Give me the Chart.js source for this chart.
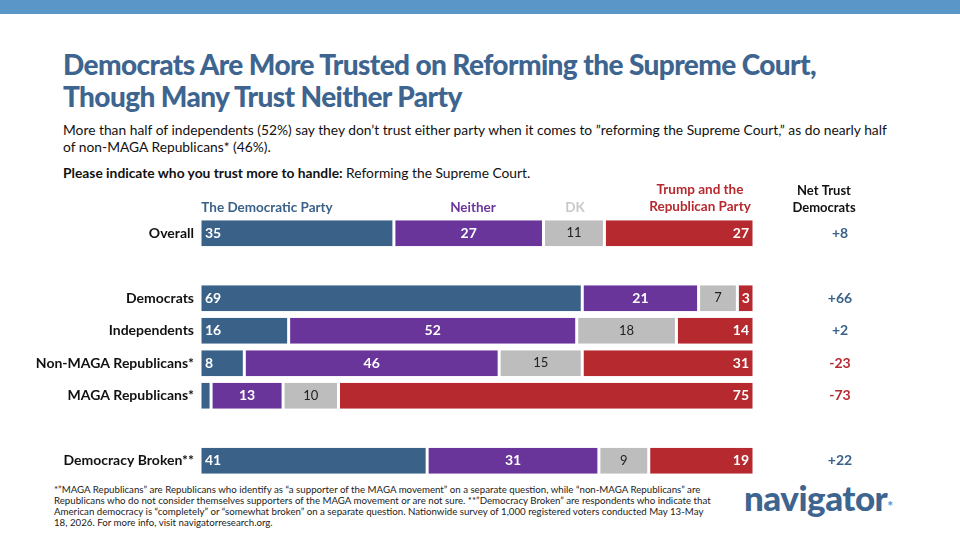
<!DOCTYPE html>
<html>
<head>
<meta charset="utf-8">
<script src="https://cdn.jsdelivr.net/npm/chart.js"></script>
<style>
  body { margin: 0; width: 960px; height: 540px; position: relative; overflow: hidden; background: #fff; font-family: Lato, "Open Sans", sans-serif; }
  #topbar { position: absolute; left: 0; top: 0; width: 960px; height: 14px; background: #5b96c8; }
  #title { position: absolute; left: 63px; top: 48px; width: 880px; font-size: 28px; line-height: 32px; font-weight: 900; color: #3d6590; letter-spacing: -0.6px; }
  #sub { position: absolute; left: 63px; top: 121px; width: 835px; font-size: 13.8px; line-height: 17px; color: #111; }
  #q { position: absolute; left: 63px; top: 164px; font-size: 13.8px; color: #111; }
  #foot { position: absolute; left: 54px; top: 484px; width: 660px; font-size: 9.7px; line-height: 11px; color: #222; }
  #logo { position: absolute; left: 744px; top: 476px; font-size: 35px; font-weight: 900; color: #3d6590; letter-spacing: -0.5px; }
  #logo span { color: #5b96c8; font-size: 14px; }
  canvas { position: absolute; left: 0; top: 0; }
</style>
</head>
<body>
<div id="topbar"></div>
<div id="title">Democrats Are More Trusted on Reforming the Supreme Court,<br>Though Many Trust Neither Party</div>
<div id="sub">More than half of independents (52%) say they don’t trust either party when it comes to ”reforming the Supreme Court,” as do nearly half of non-MAGA Republicans* (46%).</div>
<div id="q"><b>Please indicate who you trust more to handle:</b> Reforming the Supreme Court.</div>
<div id="foot">*”MAGA Republicans” are Republicans who identify as “a supporter of the MAGA movement” on a separate question, while “non-MAGA Republicans” are Republicans who do not consider themselves supporters of the MAGA movement or are not sure. **”Democracy Broken” are respondents who indicate that American democracy is “completely” or “somewhat broken” on a separate question. Nationwide survey of 1,000 registered voters conducted May 13-May 18, 2026. For more info, visit navigatorresearch.org.</div>
<div id="logo">navigator<span>*</span></div>
<canvas id="c" width="960" height="540"></canvas>
<script>
// rows, '' = spacer row
var groups = ['Overall', '', 'Democrats', 'Independents', 'Non-MAGA Republicans*', 'MAGA Republicans*', '', 'Democracy Broken**'];
var democratic = [35, null, 69, 16, 8, 2, null, 41];
var neither = [27, null, 21, 52, 46, 13, null, 31];
var dk = [11, null, 7, 18, 15, 10, null, 9];
var republican = [27, null, 3, 14, 31, 75, null, 19];
var netTrust = ['+8', '', '+66', '+2', '-23', '-73', '', '+22'];
var seriesNames = ['The Democratic Party', 'Neither', 'DK', 'Trump and the\nRepublican Party'];
var colors = ['#3a6188', '#6a359b', '#bdbdbd', '#b6292e'];

var labelPlugin = {
  id: 'labels',
  afterDatasetsDraw: function (chart) {
    var ctx = chart.ctx;
    var y = chart.scales.y;
    ctx.save();
    // row labels
    ctx.textAlign = 'right';
    ctx.textBaseline = 'middle';
    ctx.fillStyle = '#111';
    ctx.font = 'bold 14px Lato';
    groups.forEach(function (g, i) {
      if (g) ctx.fillText(g, 194, y.getPixelForValue(i));
    });
    // net trust
    ctx.textAlign = 'center';
    ctx.font = 'bold 14px Lato';
    netTrust.forEach(function (n, i) {
      if (!n) return;
      ctx.fillStyle = n[0] === '-' ? '#b6292e' : '#3a6188';
      ctx.fillText(n, 840, y.getPixelForValue(i));
    });
    ctx.fillStyle = '#111';
    ctx.font = 'bold 13px Lato';
    ctx.fillText('Net Trust', 824, 191);
    ctx.fillText('Democrats', 824, 208);
    // bar values
    chart.data.datasets.forEach(function (ds, di) {
      chart.getDatasetMeta(di).data.forEach(function (bar, i) {
        var v = ds.data[i];
        if (v == null || v < 3) return;
        var left = bar.base, right = bar.x;
        ctx.font = di === 2 ? '13px Lato' : 'bold 14px Lato';
        ctx.fillStyle = di === 2 ? '#222' : '#fff';
        if (di === 0) { ctx.textAlign = 'left'; ctx.fillText(v, left + 5, bar.y); }
        else if (di === 3 && v > 5) { ctx.textAlign = 'right'; ctx.fillText(v, right - 5, bar.y); }
        else { ctx.textAlign = 'center'; ctx.fillText(v, (left + right) / 2, bar.y); }
      });
    });
    // series headers over Overall bar
    ctx.font = 'bold 13.5px Lato';
    ctx.textAlign = 'center';
    ctx.fillStyle = colors[0]; ctx.fillText(seriesNames[0], 267, 208);
    ctx.fillStyle = colors[1]; ctx.fillText(seriesNames[1], 473, 208);
    ctx.fillStyle = '#c8c8c8'; ctx.fillText(seriesNames[2], 575, 208);
    ctx.fillStyle = colors[3];
    var parts = seriesNames[3].split('\n');
    ctx.fillText(parts[0], 700, 190); ctx.fillText(parts[1], 700, 207);
    ctx.restore();
  }
};

new Chart(document.getElementById('c'), {
  type: 'bar',
  data: {
    labels: groups,
    datasets: [democratic, neither, dk, republican].map(function (d, i) {
      return { label: seriesNames[i], data: d, backgroundColor: colors[i], borderColor: '#fff', borderWidth: { left: 1.5, right: 1.5 }, borderSkipped: false, categoryPercentage: 1, barPercentage: 0.8 };
    })
  },
  options: {
    indexAxis: 'y',
    responsive: false,
    animation: false,
    layout: { padding: { left: 200, right: 206, top: 217, bottom: 63 } },
    plugins: { legend: { display: false }, tooltip: { enabled: false } },
    scales: {
      x: { stacked: true, min: 0, max: 100, display: false },
      y: { stacked: true, display: false }
    }
  },
  plugins: [labelPlugin]
});
</script>
</body>
</html>
